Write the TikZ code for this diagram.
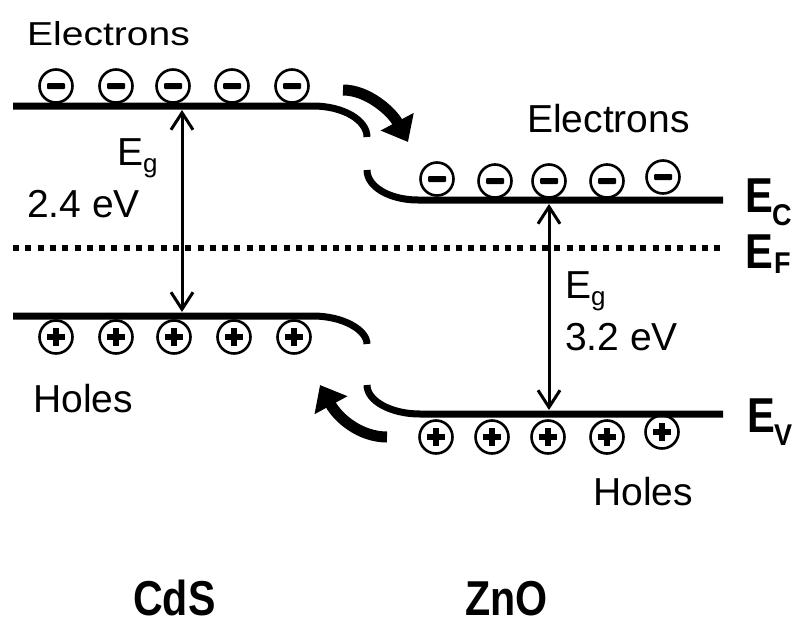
\documentclass[tikz,border=0pt]{standalone}
\usepackage{graphicx}
\usepackage{fontspec}
\setmainfont{Liberation Sans}
\usetikzlibrary{arrows.meta}
\tikzset{
  band/.style={line width=7pt},
  fermi/.style={line width=6.5pt, dash pattern=on 6pt off 6.3pt},
  gaparrow/.style={line width=3pt, {Straight Barb[length=17pt,width=22pt]}-{Straight Barb[length=17pt,width=22pt]}},
  flow/.style={line width=11pt, -{Triangle[length=23pt,width=36pt]}},
  carrier/.style={circle, draw, line width=2.6pt, minimum size=33pt, inner sep=0pt},
  minus/.style={carrier, path picture={\fill[rounded corners=1pt] ([shift={(-9pt,-3pt)}]path picture bounding box.center) rectangle ([shift={(9pt,3pt)}]path picture bounding box.center);}},
  plus/.style={carrier, path picture={
    \fill ([shift={(-9pt,-3pt)}]path picture bounding box.center) rectangle ([shift={(9pt,3pt)}]path picture bounding box.center);
    \fill ([shift={(-3pt,-9pt)}]path picture bounding box.center) rectangle ([shift={(3pt,9pt)}]path picture bounding box.center);}},
  lbl/.style={inner sep=0pt, anchor=base west, font=\fontsize{39}{39}\selectfont},
  sub/.style={inner sep=0pt, anchor=base west, font=\fontsize{30}{30}\selectfont\bfseries},
  bold/.style={inner sep=0pt, anchor=base west, text depth=0pt, font=\fontsize{49}{49}\selectfont\bfseries},
}
\begin{document}
\begin{tikzpicture}[x=1pt,y=-1pt]
\useasboundingbox[fill=white] (0,0) rectangle (800,621);

% bands
\coordinate (cdsCBl) at (13,106);
\coordinate (cdsCBr) at (313,106);
\coordinate (cdsCBe) at (367,137);
\coordinate (znoCBs) at (367,170);
\coordinate (znoCBl) at (418,200);
\coordinate (znoCBr) at (723,200);
\coordinate (cdsVBl) at (13,316);
\coordinate (cdsVBr) at (313,316);
\coordinate (cdsVBe) at (367,344);
\coordinate (znoVBs) at (367,385);
\coordinate (znoVBl) at (420,414);
\coordinate (znoVBr) at (723,414);
\coordinate (fl) at (13,248);
\coordinate (fr) at (723,248);

\draw[band] (cdsCBl) -- (cdsCBr) .. controls (343,106) and (367,120) .. (cdsCBe);
\draw[band] (znoCBs) .. controls (367,187) and (390,200) .. (znoCBl) -- (znoCBr);
\draw[band] (cdsVBl) -- (cdsVBr) .. controls (343,316) and (367,330) .. (cdsVBe);
\draw[band] (znoVBs) .. controls (367,401) and (391,414) .. (znoVBl) -- (znoVBr);
\draw[fermi] (fl) -- (fr);

% band gap arrows
\coordinate (g1t) at (182,110);
\coordinate (g1b) at (182,312);
\coordinate (g2t) at (549,204);
\coordinate (g2b) at (549,410);
\draw[gaparrow] (g1t) -- (g1b);
\draw[gaparrow] (g2t) -- (g2b);

% carriers
\foreach \x [count=\i] in {56,116,173,232,292} \node[minus] (ce\i) at (\x,86) {};
\foreach \x/\y [count=\i] in {437/179,495/181,549/181,607/181,663/177} \node[minus] (ze\i) at (\x,\y) {};
\foreach \x [count=\i] in {56,116,174,234,294} \node[plus] (ch\i) at (\x,337) {};
\foreach \x/\y [count=\i] in {436/437,492/437,548/437,607/437,662/432} \node[plus] (zh\i) at (\x,\y) {};

% transfer arrows
\coordinate (a1s) at (343,90);
\coordinate (a1e) at (408,142);
\coordinate (a2s) at (387,437);
\coordinate (a2e) at (320,385);
\draw[flow] (a1s) .. controls (368,90) and (392,112) .. (a1e);
\draw[flow] (a2s) .. controls (360,437) and (338,418) .. (a2e);

% labels
\node[lbl] (elL) at (27,45) {\scalebox{1}[0.85]{Electrons}};
\node[lbl] (elR) at (527,132) {Electrons};
\node[lbl] (egL) at (117,165) {E\raisebox{-7pt}{\fontsize{26}{26}\selectfont g}};
\node[lbl] (evL) at (27,217) {2.4 eV};
\node[lbl] (egR) at (565,298) {E\raisebox{-7pt}{\fontsize{26}{26}\selectfont g}};
\node[lbl] (evR) at (565,350) {3.2 eV};
\node[lbl] (hoL) at (33,412) {Holes};
\node[lbl] (hoR) at (593,505) {Holes};

\node[bold] (EC) at (745,212) {\scalebox{0.85}[1]{E}};
\node[sub] (ECs) at (772,225) {\scalebox{0.9}[1]{C}};
\node[bold] (EF) at (745,268) {\scalebox{0.85}[1]{E}};
\node[sub] (EFs) at (774,273) {\scalebox{0.9}[1]{F}};
\node[bold] (EV) at (747,432) {\scalebox{0.85}[1]{E}};
\node[sub] (EVs) at (774,445) {\scalebox{0.9}[1]{V}};

\node[bold] (cds) at (133,615) {\scalebox{0.84}[1]{CdS}};
\node[bold] (zno) at (465,615) {\scalebox{0.84}[1]{ZnO}};
\end{tikzpicture}
\end{document}
